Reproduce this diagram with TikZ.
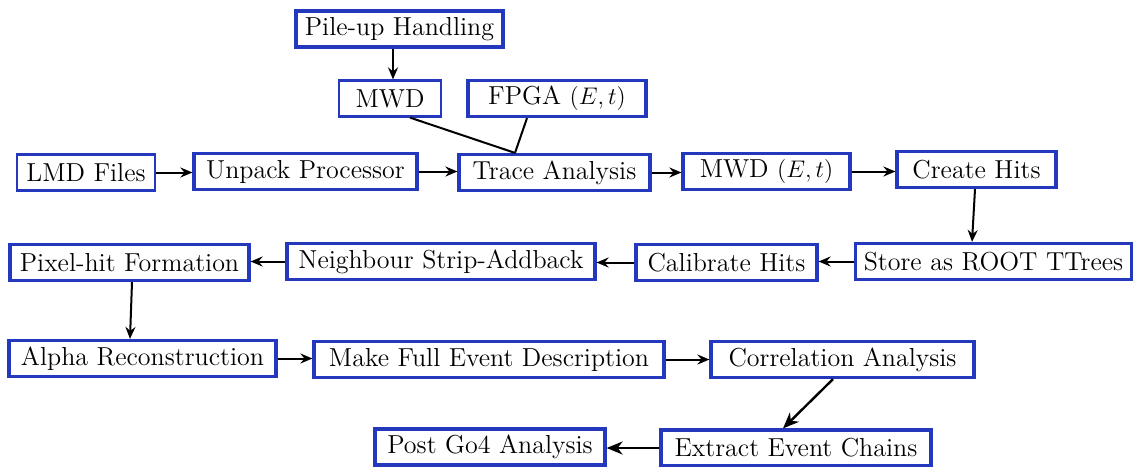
\documentclass[tikz,border=0pt]{standalone}
\usetikzlibrary{arrows.meta}
\definecolor{bblue}{RGB}{36,56,190}
\begin{document}
\begin{tikzpicture}[x=0.5pt,y=-0.5pt,
  bx/.style={draw=bblue, line width=1.6pt, fill=white, minimum height=18pt, inner sep=0pt, minimum width=#1, font=\fontsize{13}{15}\selectfont},
  thinbx/.style={bx=#1, line width=1.1pt},
  arr/.style={line width=1pt, -{Stealth[length=6pt,width=5pt,inset=2pt]}},
  bigarr/.style={line width=1.2pt, -{Stealth[length=8pt,width=6.5pt,inset=2.5pt]}},
  ln/.style={line width=1pt}]
\useasboundingbox (0,0) rectangle (1133,466);
\node[bx=103.5pt] (pile) at (399.5,29) {Pile-up Handling};
\node[thinbx=51pt] (mwd) at (390,98.5) {MWD};
\node[bx=89pt] (fpga) at (557,98.5) {FPGA $(E,t)$};
\node[thinbx=69pt] (lmd) at (86,172.5) {LMD Files};
\node[bx=111.5pt] (unpack) at (305.5,171.5) {Unpack Processor};
\node[bx=95.5pt] (trace) at (554.5,172.5) {Trace Analysis};
\node[bx=83.5pt] (mwdet) at (766.5,171.5) {MWD $(E,t)$};
\node[bx=79.5pt] (create) at (976.5,169.5) {Create Hits};
\node[bx=138pt] (store) at (993.5,261.5) {Store as ROOT TTrees};
\node[bx=90.5pt] (calib) at (726.5,262.5) {Calibrate Hits};
\node[bx=154pt] (neigh) at (441,261.5) {Neighbour Strip-Addback};
\node[bx=119.5pt] (pixel) at (129.5,262.5) {Pixel-hit Formation};
\node[bx=133.5pt] (alpha) at (142.5,358.5) {Alpha Reconstruction};
\node[bx=175pt] (full) at (489,359.5) {Make Full Event Description};
\node[bx=131.5pt] (corr) at (842.5,359.5) {Correlation Analysis};
\node[bx=135pt] (extract) at (796,448) {Extract Event Chains};
\node[bx=115pt] (post) at (490,447) {Post Go4 Analysis};
\coordinate (tj) at (515,154);
\draw[arr] (pile.south -| 393,0) -- (mwd.north -| 393,0);
\draw[ln] (mwd.south -| 410,0) -- (trace.north -| tj);
\draw[ln] (fpga.south -| 527,0) -- (trace.north -| tj);
\draw[arr] (lmd.east) -- (unpack.west |- lmd.east);
\draw[arr] (unpack.east) -- (trace.west |- unpack.east);
\draw[arr] (trace.east) -- (mwdet.west |- trace.east);
\draw[arr] (mwdet.east) -- (create.west |- mwdet.east);
\draw[arr] (create.south -| 975,0) -- (store.north -| 972,0);
\draw[arr] (store.west) -- (calib.east |- store.west);
\draw[arr] (calib.west) -- (neigh.east |- calib.west);
\draw[arr] (neigh.west) -- (pixel.east |- neigh.west);
\draw[arr] (pixel.south -| 132,0) -- (alpha.north -| 130,0);
\draw[arr] (alpha.east) -- (full.west |- alpha.east);
\draw[arr] (full.east) -- (corr.west |- full.east);
\draw[bigarr] (corr.south -| 833,0) -- (extract.north -| 783,0);
\draw[bigarr] (extract.west) -- (post.east |- extract.west);
\end{tikzpicture}
\end{document}
